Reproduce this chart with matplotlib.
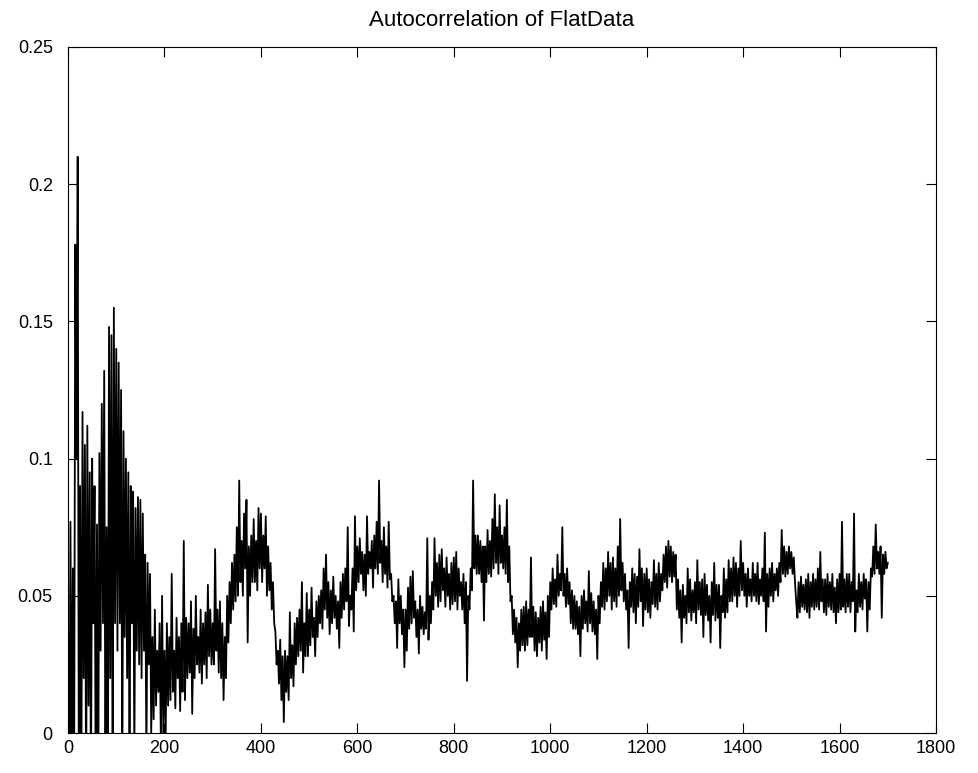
import numpy as np
import matplotlib.pyplot as plt

# autocorrelation values, x1000, one every 2.5 lags (0..1700)
max_lag = 1700
acf_milli = [
    40, -30, 77, -20, 60, -30, 178, 100, 210, -40, 90, -30, 117, 20, 105, -30, 112, 10, 95, -30,
    100, 40, 90, -30, 76, -30, 102, 30, 120, 40, 132, -20, 75, -30, 148, 20, 145, -30, 155, 40,
    140, 30, 135, 40, 125, -20, 110, 35, 100, 20, 95, -20, 90, 40, 88, -10, 82, 30, 86, 25,
    85, 20, 80, 30, 65, -10, 62, 25, 58, 0, 35, 5, 45, 10, 30, 15, 40, -5, 50, 0,
    30, 0, 40, 10, 35, 12, 58, 15, 30, 9, 42, 20, 35, 8, 40, 15, 70, 12, 42, 20,
    40, 22, 48, 7, 38, 20, 50, 25, 35, 22, 45, 18, 40, 25, 44, 20, 54, 28, 45, 25,
    40, 25, 67, 30, 45, 22, 48, 20, 40, 12, 35, 20, 50, 33, 55, 40, 62, 45, 65, 48,
    75, 50, 92, 55, 70, 50, 80, 60, 85, 33, 68, 50, 72, 55, 78, 55, 70, 52, 82, 60,
    80, 55, 72, 60, 79, 50, 68, 52, 62, 45, 55, 40, 37, 25, 30, 18, 34, 12, 28, 4,
    30, 15, 28, 12, 44, 20, 32, 17, 40, 25, 42, 28, 45, 30, 55, 22, 40, 28, 51, 28,
    45, 32, 53, 35, 42, 28, 48, 35, 50, 40, 52, 38, 60, 45, 65, 42, 55, 36, 52, 40,
    57, 42, 50, 38, 48, 31, 55, 42, 58, 45, 60, 48, 75, 39, 50, 45, 60, 37, 79, 52,
    68, 55, 71, 58, 66, 52, 65, 50, 79, 58, 66, 60, 70, 53, 72, 60, 77, 58, 92, 62,
    70, 55, 75, 58, 68, 53, 77, 56, 58, 48, 50, 40, 48, 31, 56, 40, 50, 36, 45, 24,
    45, 30, 53, 38, 57, 40, 59, 42, 48, 35, 45, 29, 50, 38, 46, 36, 44, 38, 71, 34,
    50, 40, 55, 45, 71, 50, 62, 46, 65, 48, 67, 52, 60, 46, 64, 50, 58, 45, 62, 47,
    64, 48, 66, 45, 60, 50, 55, 45, 58, 40, 55, 19, 50, 45, 60, 52, 92, 60, 72, 58,
    72, 58, 70, 55, 68, 41, 68, 55, 74, 58, 70, 57, 78, 60, 87, 62, 75, 58, 83, 62,
    72, 60, 75, 58, 85, 55, 68, 48, 50, 36, 45, 33, 42, 24, 40, 30, 45, 32, 46, 30,
    48, 32, 45, 35, 64, 35, 46, 30, 44, 28, 42, 33, 46, 30, 48, 34, 44, 27, 50, 35,
    55, 45, 60, 47, 56, 46, 65, 50, 58, 52, 75, 50, 58, 46, 60, 47, 55, 40, 52, 38,
    50, 38, 48, 36, 46, 28, 50, 38, 52, 40, 48, 37, 59, 40, 51, 37, 48, 36, 45, 27,
    50, 40, 55, 46, 62, 45, 60, 48, 66, 50, 62, 45, 64, 48, 60, 46, 68, 50, 78, 52,
    62, 48, 58, 45, 52, 31, 55, 46, 60, 44, 58, 40, 57, 46, 67, 48, 60, 39, 58, 45,
    60, 44, 56, 42, 55, 47, 63, 46, 58, 45, 62, 48, 58, 52, 65, 55, 68, 53, 70, 57,
    68, 55, 66, 57, 65, 45, 56, 42, 52, 33, 54, 42, 50, 40, 60, 44, 56, 41, 52, 44,
    55, 40, 63, 45, 55, 43, 56, 35, 58, 43, 54, 41, 50, 33, 55, 43, 62, 41, 54, 42,
    54, 31, 50, 44, 60, 42, 56, 44, 63, 48, 60, 48, 64, 50, 62, 46, 60, 50, 70, 52,
    62, 50, 58, 46, 60, 50, 56, 48, 62, 50, 58, 48, 62, 47, 56, 50, 60, 48, 73, 37,
    58, 46, 60, 50, 62, 48, 58, 52, 60, 50, 62, 55, 74, 58, 68, 57, 66, 58, 68, 60,
    66, 58, 64, 55, 48, 42, 55, 44, 57, 46, 54, 45, 56, 44, 58, 42, 55, 46, 58, 45,
    56, 46, 60, 45, 66, 48, 56, 44, 56, 43, 58, 46, 55, 45, 58, 44, 53, 40, 56, 44,
    58, 45, 77, 46, 56, 44, 58, 46, 58, 44, 55, 48, 80, 37, 52, 44, 58, 46, 55, 45,
    58, 49, 56, 37, 55, 45, 60, 57, 68, 58, 76, 60, 66, 58, 68, 42, 65, 58, 66, 60,
    62,
]

x_ticks = [0, 200, 400, 600, 800, 1000, 1200, 1400, 1600, 1800]
y_ticks = [0, 0.05, 0.1, 0.15, 0.2, 0.25]
y_ticklabels = ['0', '0.05', '0.1', '0.15', '0.2', '0.25']
title = 'Autocorrelation of FlatData'

plt.rcParams['font.family'] = ['Liberation Sans', 'DejaVu Sans']

acf = np.array(acf_milli) / 1000.
lags = np.linspace(0, max_lag, len(acf))

fig = plt.figure(figsize=(9.79, 7.73), dpi=100)
ax = fig.add_axes([0.0695, 0.0517, 0.8866, 0.8875])

ax.plot(lags, acf, color='black', lw=1.3)

ax.set_xlim(0, 1800)
ax.set_ylim(0, 0.25)
ax.set_xticks(x_ticks)
ax.set_yticks(y_ticks)
ax.set_yticklabels(y_ticklabels)
ax.tick_params(direction='in', length=7, width=0.8, top=True, right=True,
               labelsize=13)
ax.tick_params(axis='y', pad=11)
ax.tick_params(axis='x', pad=5)
for sp in ax.spines.values():
    sp.set_linewidth(0.8)

ax.set_title(title, fontsize=16, pad=15)

fig.savefig('out.png', dpi=100)
